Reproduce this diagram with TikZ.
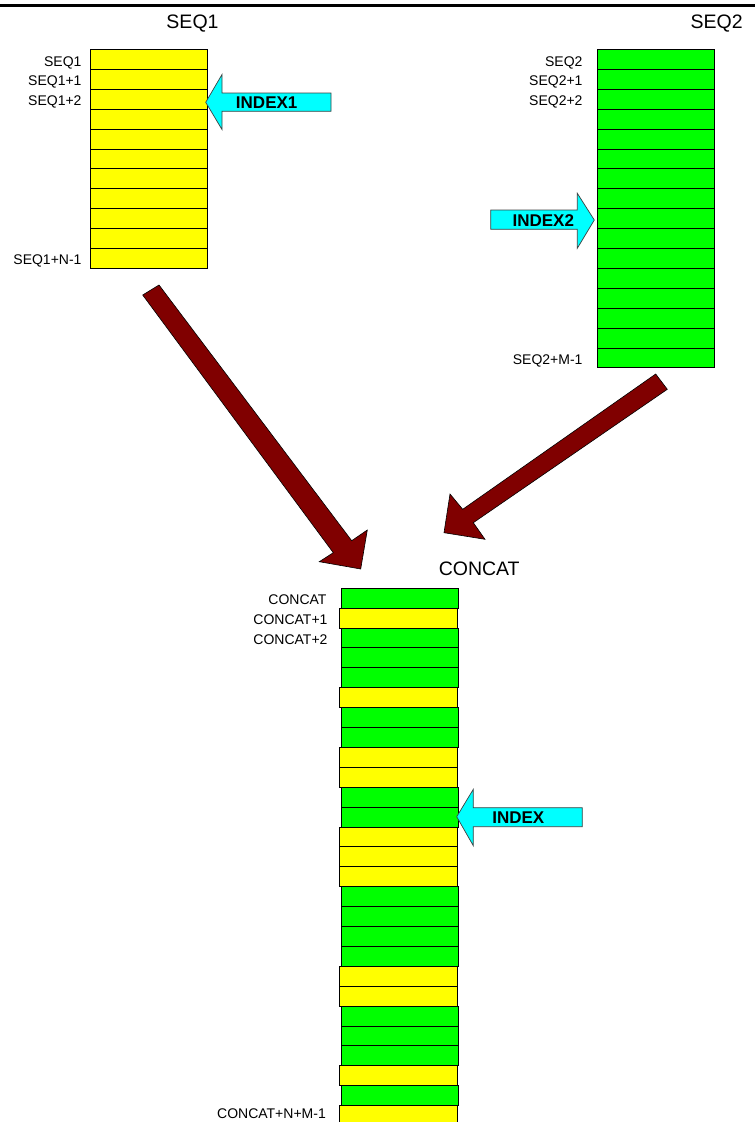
\documentclass[tikz,border=0pt]{standalone}
\usepackage{fontspec}
\setmainfont{Liberation Sans}
\definecolor{arrowred}{RGB}{128,0,0}
\definecolor{celly}{RGB}{255,255,0}
\definecolor{cellg}{RGB}{0,255,0}
\definecolor{aqua}{RGB}{0,255,255}
\begin{document}
\begin{tikzpicture}[x=1pt,y=-1pt,
  cell/.style={draw=black, line width=0.9pt, inner sep=0pt, minimum height=19.9pt, minimum width=117.4pt, anchor=north west},
  ycell/.style={cell, fill=celly},
  gcell/.style={cell, fill=cellg},
  ccy/.style={ycell, xshift=-0.7pt},
  ccg/.style={gcell, xshift=0.7pt},
  lbl/.style={anchor=base east, inner sep=0pt, font=\fontsize{14}{16}\selectfont},
  ttl/.style={anchor=base, inner sep=0pt, font=\fontsize{19.5}{22}\selectfont},
  idx/.style={anchor=base, inner sep=0pt, font=\fontsize{17}{19}\selectfont\bfseries},
  ptr/.style={fill=aqua, draw=black!75, line width=0.7pt, line join=miter},
  bigarrow/.style={fill=arrowred, draw=black, line width=0.6pt, line join=miter}]
\useasboundingbox (0,0) rectangle (755,1122);
\clip (0,0) rectangle (755,1122);
% top rule
\coordinate (ruleL) at (0,5.3);
\coordinate (ruleR) at (755,5.3);
\draw[line width=2.5pt] (ruleL) -- (ruleR);

% titles
\node[ttl] (t1) at (192.5,28.3) {SEQ1};
\node[ttl] (t2) at (716.7,28.3) {SEQ2};
\node[ttl] (t3) at (479.2,575) {CONCAT};

% SEQ1 column
\foreach \i in {0,...,10} \node[ycell] (a\i) at (90,{49+\i*19.9}) {};
\node[lbl] (la0) at (81.7,66) {SEQ1};
\node[lbl] (la1) at (81.7,85.9) {SEQ1+1};
\node[lbl] (la2) at (81.7,105.8) {SEQ1+2};
\node[lbl] (la10) at (81.7,264.5) {SEQ1+N-1};

% SEQ2 column
\foreach \i in {0,...,15} \node[gcell] (b\i) at (596.7,{49+\i*19.9}) {};
\node[lbl] (lb0) at (582.7,66) {SEQ2};
\node[lbl] (lb1) at (582.7,85.9) {SEQ2+1};
\node[lbl] (lb2) at (582.7,105.8) {SEQ2+2};
\node[lbl] (lb15) at (582.7,364.4) {SEQ2+M-1};

% CONCAT column
\foreach \c [count=\i from 0] in {g,y,g,g,g,y,g,g,y,y,g,g,y,y,y,g,g,g,g,y,y,g,g,g,y,g,y}
  \node[cc\c] (c\i) at (340,{587.7+\i*19.9}) {};
\node[lbl] (lc0) at (326.7,604.5) {CONCAT};
\node[lbl] (lc1) at (327.7,624.5) {CONCAT+1};
\node[lbl] (lc2) at (327.7,644.4) {CONCAT+2};
\node[lbl] (lc26) at (326,1118.3) {CONCAT+N+M-1};

% index pointers
\draw[ptr] (205.7,102.3) -- (222,74.5) -- (222,93) -- (331,93) -- (331,111.3) -- (222,111.3) -- (222,129.5) -- cycle;
\node[idx] (i1) at (266.7,108.3) {INDEX1};

\draw[ptr] (594.3,220) -- (577.3,193.3) -- (577.3,210) -- (490.7,210) -- (490.7,229.3) -- (577.3,229.3) -- (577.3,248.3) -- cycle;
\node[idx] (i2) at (543.3,226) {INDEX2};

\draw[ptr] (456.7,816.7) -- (473.3,789.3) -- (473.3,807.7) -- (582.3,807.7) -- (582.3,826.7) -- (473.3,826.7) -- (473.3,845.7) -- cycle;
\node[idx] (i3) at (518.3,823.3) {INDEX};

% big arrows
\draw[bigarrow] (142.7,295) -- (159,285) -- (351.7,540.7) -- (367.3,530) -- (360.7,569) -- (319.3,561.7) -- (333.3,552.7) -- cycle;
\draw[bigarrow] (655.7,374) -- (667.3,389.3) -- (473.3,522.7) -- (485,539.3) -- (444,532.7) -- (450,494) -- (462.7,509.3) -- cycle;
\end{tikzpicture}
\end{document}
